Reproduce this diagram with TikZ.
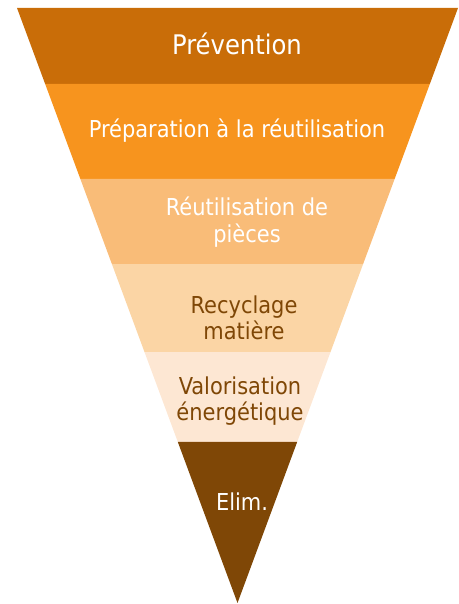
\documentclass[tikz,border=0pt]{standalone}
\usepackage{fontspec}
\setmainfont{DejaVu Sans Condensed}
\usetikzlibrary{calc}

\definecolor{prevcol}{HTML}{C96D08}
\definecolor{prepcol}{HTML}{F7941E}
\definecolor{reutcol}{HTML}{F9BC78}
\definecolor{recycol}{HTML}{FBD5A5}
\definecolor{valocol}{HTML}{FDE7D3}
\definecolor{elimcol}{HTML}{7F4706}

\tikzset{
  lvltext/.style={align=center, inner sep=0pt, text=white,
    font=\fontsize{23.3}{26.5}\selectfont},
  lvldark/.style={lvltext, text=elimcol}
}

\begin{document}
\begin{tikzpicture}[x=1pt, y=1pt]
  \useasboundingbox (0,0) rectangle (458,604);
  \coordinate (tl) at (17,596);
  \coordinate (tr) at (458,596);
  \coordinate (apex) at (237.5,1);

  \foreach \ta/\tb/\col in {0/0.1277/prevcol, 0.1277/0.2874/prepcol,
      0.2874/0.4303/reutcol, 0.4303/0.5782/recycol,
      0.5782/0.7294/valocol, 0.7294/1/elimcol}
    \fill[\col] ($(tl)!\ta!(apex)$) -- ($(tr)!\ta!(apex)$)
      -- ($(tr)!\tb!(apex)$) -- ($(tl)!\tb!(apex)$) -- cycle;

  \node[lvltext, anchor=base, font=\fontsize{27}{30}\selectfont] (prev) at (237,549) {Prévention};
  \node[lvltext, anchor=base] (prep) at (237,466) {Préparation à la réutilisation};
  \node[lvltext] (reut) at (247,382) {Réutilisation de\\pièces};
  \node[lvldark] (recy) at (244,286) {Recyclage\\matière};
  \node[lvldark] (valo) at (240,203) {Valorisation\\énergétique};
  \node[lvltext, anchor=base] (elim) at (242,93) {Elim.};
\end{tikzpicture}
\end{document}
